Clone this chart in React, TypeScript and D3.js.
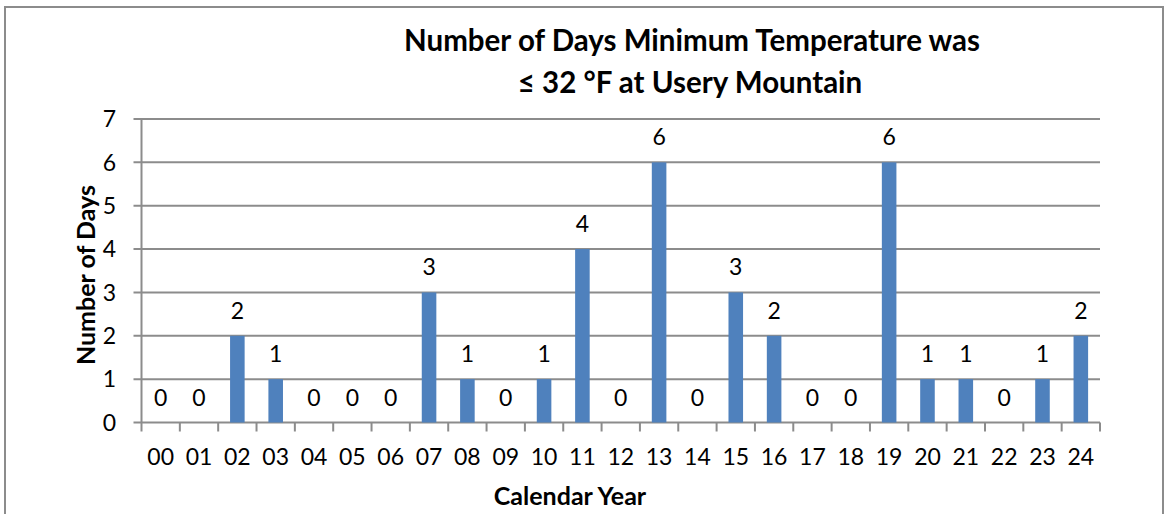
import React from 'react';
import * as d3 from 'd3';

const years = ['00', '01', '02', '03', '04', '05', '06', '07', '08', '09', '10', '11', '12', '13', '14', '15', '16', '17', '18', '19', '20', '21', '22', '23', '24'];
const days = [0, 0, 2, 1, 0, 0, 0, 3, 1, 0, 1, 4, 0, 6, 0, 3, 2, 0, 0, 6, 1, 1, 0, 1, 2];
const yTicks = [0, 1, 2, 3, 4, 5, 6, 7];

const W = 1168;
const H = 514;
const left = 141.5;
const right = 1100;
const top = 119;
const bottom = 422.5;
const font = 'Lato, "Open Sans", sans-serif';
const grid = '#8c8c8c';

export default function App() {
  const x = d3.scaleBand().domain(years).range([left, right]).paddingInner(0.62).paddingOuter(0.31);
  const xb = d3.scaleBand().domain(years).range([left, right]);
  const y = d3.scaleLinear().domain([0, 7]).range([bottom, top]);

  return (
    <svg width={W} height={H} style={{ position: 'absolute', left: 0, top: 0, background: '#fff' }} fontFamily={font}>
      <rect x={5} y={7} width={1158} height={530} fill="#fff" stroke={grid} strokeWidth={2} />
      <text x={692} y={51} textAnchor="middle" fontSize={29.5} fontWeight="bold">Number of Days Minimum Temperature was</text>
      <text x={690} y={93} textAnchor="middle" fontSize={29.5} fontWeight="bold">≤ 32 °F at Usery Mountain</text>

      {yTicks.map(t => (
        <g key={t}>
          <line x1={left - 8} x2={right} y1={y(t)} y2={y(t)} stroke={grid} strokeWidth={2} />
          <text x={116} y={y(t)} textAnchor="end" dy="0.36em" fontSize={23}>{t}</text>
        </g>
      ))}
      <line x1={left} x2={left} y1={top} y2={bottom} stroke={grid} strokeWidth={2} />
      {years.map(yr => (
        <line key={'t' + yr} x1={xb(yr)!} x2={xb(yr)!} y1={bottom} y2={bottom + 9} stroke={grid} strokeWidth={2} />
      ))}
      <line x1={right} x2={right} y1={bottom} y2={bottom + 9} stroke={grid} strokeWidth={2} />

      {years.map((yr, i) => (
        <g key={yr}>
          {days[i] > 0 && (
            <rect x={x(yr)!} y={y(days[i])} width={x.bandwidth()} height={bottom - y(days[i])} fill="#4f81bd" />
          )}
          <text x={x(yr)! + x.bandwidth() / 2} y={y(days[i]) - 17} textAnchor="middle" fontSize={23}>{days[i]}</text>
          <text x={xb(yr)! + xb.bandwidth() / 2} y={465} textAnchor="middle" fontSize={23}>{yr}</text>
        </g>
      ))}

      <text x={570} y={505} textAnchor="middle" fontSize={25} fontWeight="bold">Calendar Year</text>
      <text transform="translate(95,275) rotate(-90)" textAnchor="middle" fontSize={25} fontWeight="bold">Number of Days</text>
    </svg>
  );
}
